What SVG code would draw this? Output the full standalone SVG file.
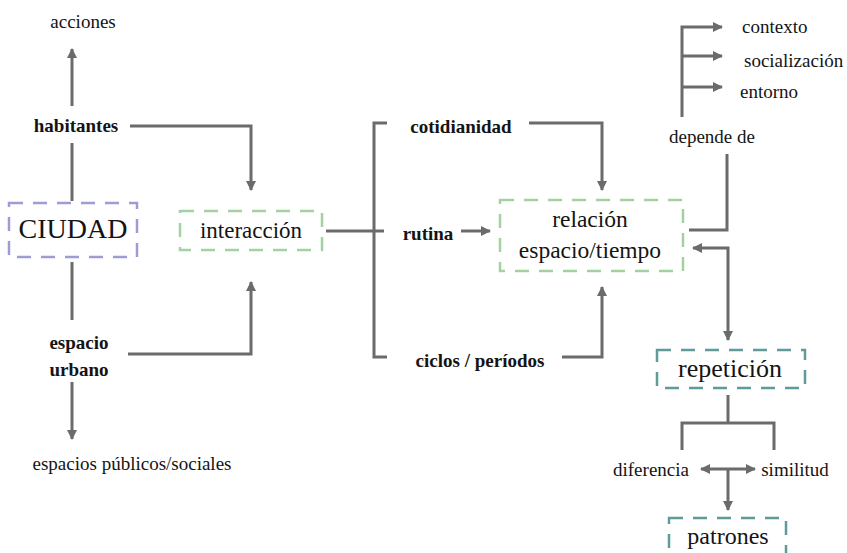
<svg xmlns="http://www.w3.org/2000/svg" width="847" height="553" viewBox="0 0 847 553">
<style>
text{font-family:'Liberation Serif','Times New Roman',serif !important;fill:#141414}
.box{fill:none;stroke-width:2.5;stroke-dasharray:14 10}
.c{fill:none;stroke:#6b6b6b;stroke-width:3}
</style>
<defs>
<marker id="ah" viewBox="0 0 10 10" refX="9" refY="5" markerWidth="11" markerHeight="10" markerUnits="userSpaceOnUse" orient="auto-start-reverse">
<path d="M0,0 L10,5 L0,10 z" fill="#6b6b6b"/>
</marker>
</defs>
<rect width="847" height="553" fill="#ffffff"/>
<g id="connectors" class="c">
<path d="M72,106 V49" marker-end="url(#ah)"/>
<path d="M72,143 V201"/>
<path d="M72,262 V320"/>
<path d="M72,382 V439" marker-end="url(#ah)"/>
<path d="M130,126 H251 V190" marker-end="url(#ah)"/>
<path d="M128,354 H251 V282" marker-end="url(#ah)"/>
<path d="M326,231 H384"/>
<path d="M387,123 H374 V357 H387"/>
<path d="M529,123 H602 V190" marker-end="url(#ah)"/>
<path d="M461,231 H490" marker-end="url(#ah)"/>
<path d="M562,357 H602 V287" marker-end="url(#ah)"/>
<path d="M689,230 H727 V154"/>
<path d="M682,117 V27 H722" marker-end="url(#ah)"/>
<path d="M682,56 H722" marker-end="url(#ah)"/>
<path d="M682,87 H722" marker-end="url(#ah)"/>
<path d="M693,248 H728 V340" marker-start="url(#ah)" marker-end="url(#ah)"/>
<path d="M728,395 V423"/>
<path d="M682,450 V423 H774 V450"/>
<path d="M701,469 H755" marker-start="url(#ah)" marker-end="url(#ah)"/>
<path d="M728,469 V510" marker-end="url(#ah)"/>
</g>
<g id="acciones"><text style="font-family:'Liberation Serif',serif !important" font-size="19" x="83" y="28" text-anchor="middle">acciones</text></g>
<g id="habitantes"><text style="font-family:'Liberation Serif',serif !important" font-size="19" font-weight="bold" x="76" y="132" text-anchor="middle">habitantes</text></g>
<g id="ciudad">
<rect class="box" stroke="#9e9dd2" x="9" y="203" width="128" height="54"/>
<text style="font-family:'Liberation Serif',serif !important" font-size="28" x="73" y="238" text-anchor="middle">CIUDAD</text>
</g>
<g id="espacio-urbano">
<text style="font-family:'Liberation Serif',serif !important" font-size="19" font-weight="bold" x="79" y="349" text-anchor="middle">espacio</text>
<text style="font-family:'Liberation Serif',serif !important" font-size="19" font-weight="bold" x="79" y="376" text-anchor="middle">urbano</text>
</g>
<g id="espacios-publicos"><text style="font-family:'Liberation Serif',serif !important" font-size="19" x="132" y="470" text-anchor="middle">espacios públicos/sociales</text></g>
<g id="interaccion">
<rect class="box" stroke="#a3d1a0" x="180" y="211" width="142" height="39"/>
<text style="font-family:'Liberation Serif',serif !important" font-size="23" x="251" y="238" text-anchor="middle">interacción</text>
</g>
<g id="cotidianidad"><text style="font-family:'Liberation Serif',serif !important" font-size="19" font-weight="bold" x="461" y="133" text-anchor="middle">cotidianidad</text></g>
<g id="rutina"><text style="font-family:'Liberation Serif',serif !important" font-size="19" font-weight="bold" x="428" y="240" text-anchor="middle">rutina</text></g>
<g id="ciclos"><text style="font-family:'Liberation Serif',serif !important" font-size="19" font-weight="bold" x="480" y="367" text-anchor="middle">ciclos / períodos</text></g>
<g id="relacion">
<rect class="box" stroke="#a3d1a0" x="500" y="200" width="183" height="71"/>
<text style="font-family:'Liberation Serif',serif !important" font-size="23.5" x="590" y="227" text-anchor="middle">relación</text>
<text style="font-family:'Liberation Serif',serif !important" font-size="23.5" x="590" y="258" text-anchor="middle">espacio/tiempo</text>
</g>
<g id="depende"><text style="font-family:'Liberation Serif',serif !important" font-size="19" x="712" y="143" text-anchor="middle">depende de</text></g>
<g id="contexto"><text style="font-family:'Liberation Serif',serif !important" font-size="19" x="742" y="33">contexto</text></g>
<g id="socializacion"><text style="font-family:'Liberation Serif',serif !important" font-size="19" x="744" y="67">socialización</text></g>
<g id="entorno"><text style="font-family:'Liberation Serif',serif !important" font-size="19" x="740" y="98">entorno</text></g>
<g id="repeticion">
<rect class="box" stroke="#5e9b99" x="657" y="350" width="148" height="38"/>
<text style="font-family:'Liberation Serif',serif !important" font-size="26" x="730" y="377" text-anchor="middle">repetición</text>
</g>
<g id="diferencia"><text style="font-family:'Liberation Serif',serif !important" font-size="19" x="651" y="476" text-anchor="middle">diferencia</text></g>
<g id="similitud"><text style="font-family:'Liberation Serif',serif !important" font-size="19" x="795" y="476" text-anchor="middle">similitud</text></g>
<g id="patrones">
<rect class="box" stroke="#5e9b99" x="669" y="518" width="117" height="42"/>
<text style="font-family:'Liberation Serif',serif !important" font-size="24" x="728" y="544" text-anchor="middle">patrones</text>
</g>
</svg>
